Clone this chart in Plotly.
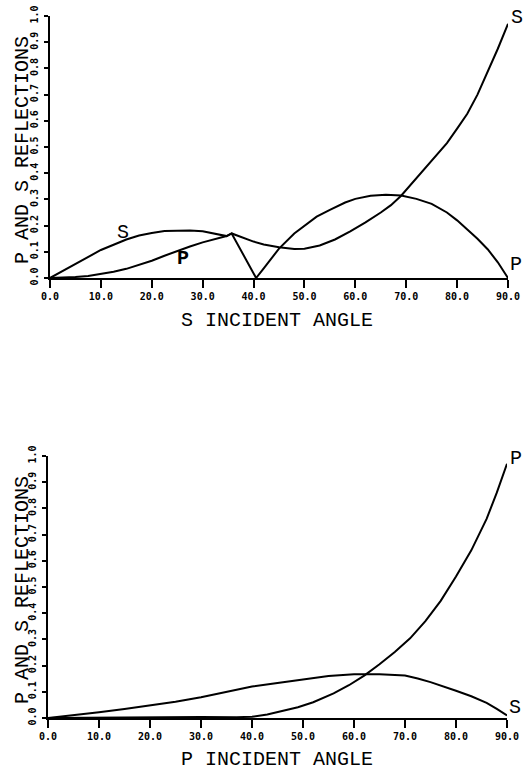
import plotly.graph_objects as go

# ---------------- data ----------------
# Top panel: S incident angle
top_S_angle = [0, 2.5, 5, 7.5, 10, 12.5, 15, 17.5, 20, 22.5, 25, 27.5, 30, 32.5, 34.7, 35.7,
               37, 38.5, 40, 42, 45, 48, 50, 53, 56, 59, 62, 65, 67, 69, 71, 73, 75, 78, 80,
               82, 84, 86, 88, 90]
top_S_refl = [0, 0.027, 0.054, 0.080, 0.107, 0.127, 0.147, 0.162, 0.172, 0.179, 0.181, 0.181,
              0.178, 0.168, 0.160, 0.170, 0.160, 0.149, 0.139, 0.128, 0.117, 0.111, 0.112,
              0.124, 0.147, 0.178, 0.212, 0.250, 0.278, 0.314, 0.358, 0.405, 0.450, 0.515,
              0.570, 0.627, 0.700, 0.785, 0.875, 0.970]

top_P_angle = [0, 2.5, 5, 7.5, 10, 12.5, 15, 17.5, 20, 22.5, 25, 27.5, 30, 32.5, 34.7, 35.7,
               40.5, 42, 43.5, 45, 48, 50, 52.4, 55, 58, 60, 63, 66, 69, 72, 75, 78, 80, 82,
               84, 86, 88, 90]
top_P_refl = [0, 0.001, 0.004, 0.008, 0.015, 0.024, 0.035, 0.050, 0.066, 0.085, 0.103, 0.120,
              0.136, 0.150, 0.160, 0.170, 0.0, 0.037, 0.075, 0.112, 0.170, 0.200, 0.234,
              0.260, 0.288, 0.302, 0.314, 0.318, 0.315, 0.302, 0.283, 0.250, 0.220, 0.185,
              0.150, 0.110, 0.060, 0.0]

# Bottom panel: P incident angle
bot_S_angle = [0, 5, 10, 15, 20, 25, 30, 35, 40, 45, 50, 55, 60, 62.5, 65, 70, 72.5, 75, 78,
               80, 83, 86, 88, 90]
bot_S_refl = [0, 0.010, 0.022, 0.034, 0.047, 0.062, 0.079, 0.099, 0.120, 0.134, 0.148, 0.160,
              0.167, 0.168, 0.167, 0.162, 0.151, 0.137, 0.118, 0.104, 0.083, 0.058, 0.035, 0.010]

bot_P_angle = [0, 10, 20, 30, 37, 40, 43, 46, 49, 52, 56, 59, 62, 65, 68, 71, 74, 77, 80, 83,
               86, 88, 90]
bot_P_refl = [0, 0.002, 0.004, 0.004, 0.003, 0.005, 0.013, 0.026, 0.041, 0.060, 0.094, 0.125,
              0.162, 0.205, 0.252, 0.304, 0.370, 0.447, 0.540, 0.640, 0.760, 0.860, 0.970]

x_ticks = [0, 10, 20, 30, 40, 50, 60, 70, 80, 90]
x_tick_labels = ["0.0", "10.0", "20.0", "30.0", "40.0", "50.0", "60.0", "70.0", "80.0", "90.0"]
y_ticks = [0, 0.1, 0.2, 0.3, 0.4, 0.5, 0.6, 0.7, 0.8, 0.9, 1.0]
y_tick_labels = ["0.0", "0.1", "0.2", "0.3", "0.4", "0.5", "0.6", "0.7", "0.8", "0.9", "1.0"]

y_title = "P AND S REFLECTIONS"
top_x_title = "S INCIDENT ANGLE"
bot_x_title = "P INCIDENT ANGLE"

# ---------------- figure ----------------
W, H = 526, 772


def px(x):
    return x / W


def py(y):
    return 1 - y / H


line = dict(color="black", width=2)

fig = go.Figure()
fig.add_trace(go.Scatter(x=top_S_angle, y=top_S_refl, mode="lines", line=line,
                         xaxis="x", yaxis="y", cliponaxis=False))
fig.add_trace(go.Scatter(x=top_P_angle, y=top_P_refl, mode="lines", line=line,
                         xaxis="x", yaxis="y", cliponaxis=False))
fig.add_trace(go.Scatter(x=bot_S_angle, y=bot_S_refl, mode="lines", line=line,
                         xaxis="x2", yaxis="y2", cliponaxis=False))
fig.add_trace(go.Scatter(x=bot_P_angle, y=bot_P_refl, mode="lines", line=line,
                         xaxis="x2", yaxis="y2", cliponaxis=False))

tick_font = dict(family="DejaVu Sans Mono", size=10, color="black", weight="bold")
title_font = dict(family="Liberation Mono", size=20, color="black")


def xaxis(domain, anchor):
    return dict(domain=domain, anchor=anchor, range=[0, 90], tickvals=x_ticks,
                ticktext=x_tick_labels, ticks="outside", ticklen=8, tickwidth=2,
                tickcolor="black", showline=True, linecolor="black", linewidth=2,
                showgrid=False, zeroline=False, tickfont=tick_font, ticklabelstandoff=0,
                automargin=False, fixedrange=True)


def yaxis(domain, anchor):
    return dict(domain=domain, anchor=anchor, range=[0, 1], tickvals=y_ticks,
                ticktext=y_tick_labels, ticks="outside", ticklen=4, tickwidth=2,
                tickcolor="black", showline=True, linecolor="black", linewidth=2,
                showgrid=False, zeroline=False, tickfont=tick_font, tickangle=-90,
                ticklabelstandoff=2, automargin=False, fixedrange=True)


fig.update_layout(
    template="none",
    width=W, height=H,
    margin=dict(l=0, r=0, t=0, b=0, pad=0),
    paper_bgcolor="white", plot_bgcolor="white",
    showlegend=False,
    xaxis=xaxis([px(50), px(508)], "y"),
    yaxis=yaxis([py(278), py(16)], "x"),
    xaxis2=xaxis([px(48), px(507)], "y2"),
    yaxis2=yaxis([py(718), py(456)], "x2"),
)

annotations = [
    # axis titles
    dict(text=top_x_title, xref="paper", yref="paper", x=px(277), y=py(321),
         showarrow=False, font=title_font, xanchor="center", yanchor="middle"),
    dict(text=bot_x_title, xref="paper", yref="paper", x=px(277), y=py(759),
         showarrow=False, font=title_font, xanchor="center", yanchor="middle"),
    dict(text=y_title, xref="paper", yref="paper", x=px(22), y=py(150), textangle=-90,
         showarrow=False, font=title_font, xanchor="center", yanchor="middle"),
    dict(text=y_title, xref="paper", yref="paper", x=px(22), y=py(590), textangle=-90,
         showarrow=False, font=title_font, xanchor="center", yanchor="middle"),
    # curve labels, top panel
    dict(text="S", xref="x", yref="y", x=14.3, y=0.172, showarrow=False, font=title_font),
    dict(text="<b>P</b>", xref="x", yref="y", x=26.2, y=0.075, showarrow=False, font=title_font),
    dict(text="S", xref="x", yref="y", x=90, y=0.996, xanchor="left", xshift=1,
         showarrow=False, font=title_font),
    dict(text="P", xref="x", yref="y", x=90, y=0.05, xanchor="left", xshift=0,
         showarrow=False, font=title_font),
    # curve labels, bottom panel
    dict(text="P", xref="x2", yref="y2", x=90, y=0.99, xanchor="left", xshift=1,
         showarrow=False, font=title_font),
    dict(text="S", xref="x2", yref="y2", x=90, y=0.04, xanchor="left", xshift=0,
         showarrow=False, font=title_font),
]
fig.update_layout(annotations=annotations)

# remove the default 8px page margin so the 526x772 figure fills the window exactly
fig.write_html("out.html", config={"displayModeBar": False},
               post_script="document.body.style.margin='0';"
                           "document.body.style.overflow='hidden';")
